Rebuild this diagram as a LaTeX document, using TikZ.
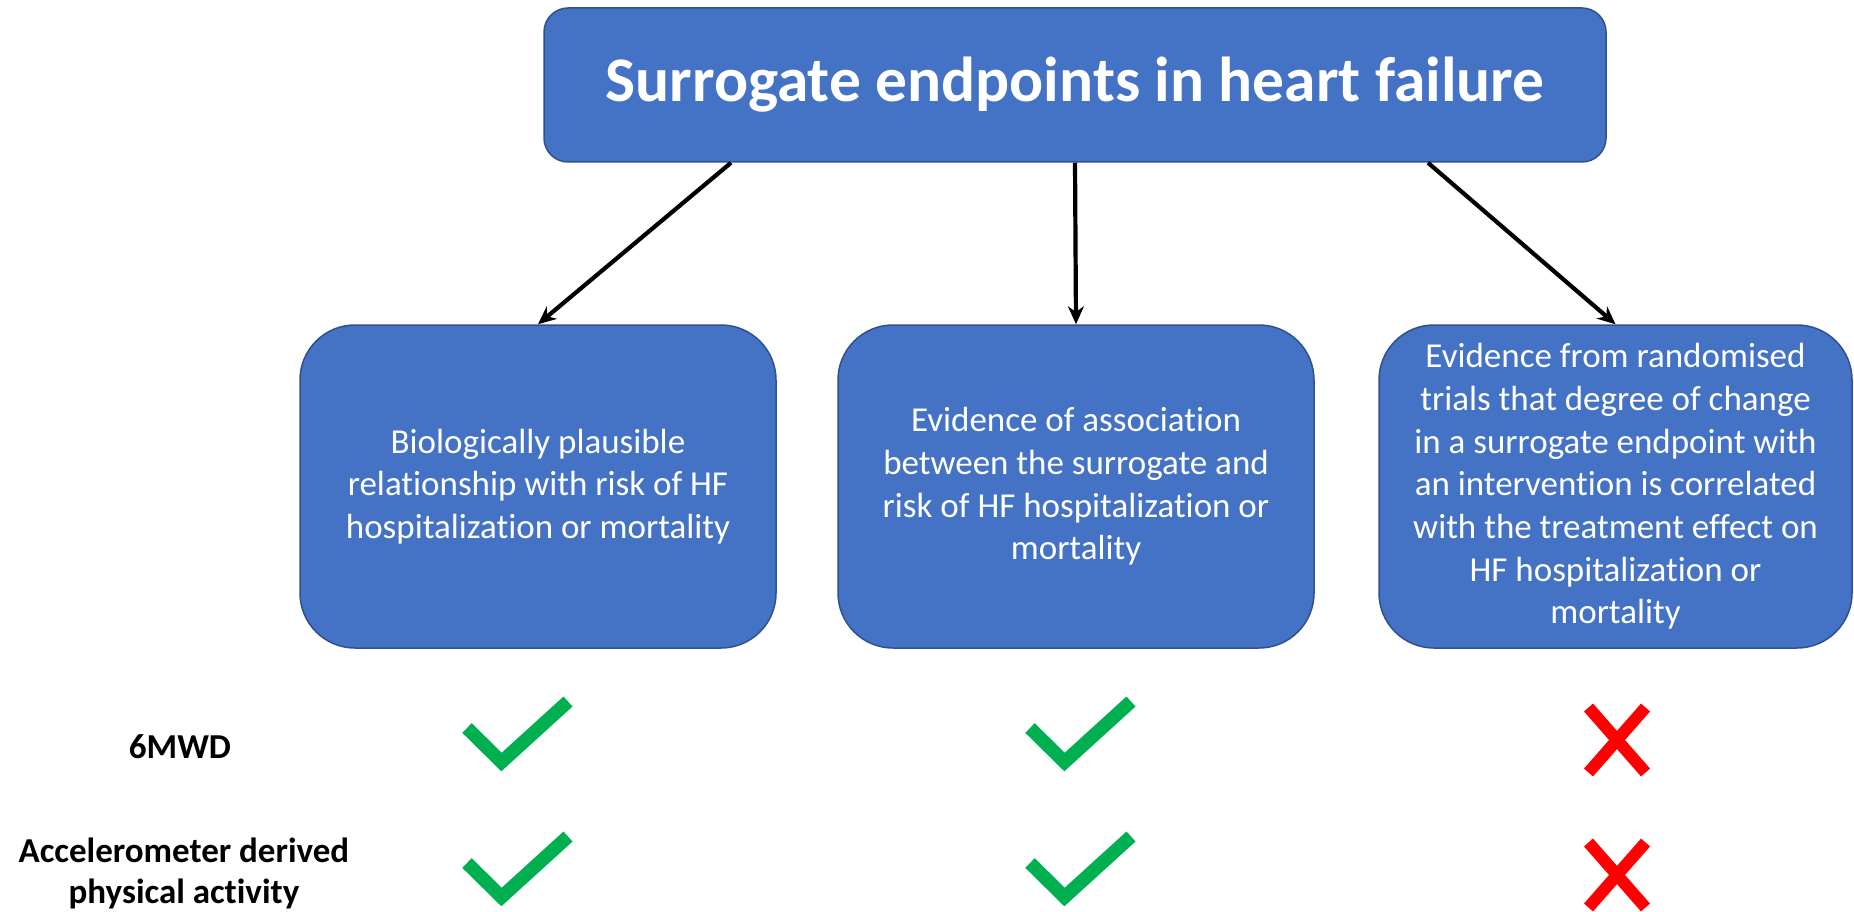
\documentclass[tikz,border=0pt]{standalone}
\usepackage{fontspec}
\setmainfont{Carlito}[Ligatures={NoCommon}]
\usetikzlibrary{arrows.meta}
\definecolor{boxblue}{HTML}{4472C4}
\definecolor{boxedge}{HTML}{2F528F}
\definecolor{okgreen}{HTML}{00B050}
\definecolor{nored}{HTML}{FF0000}
\tikzset{
  titlebox/.style={rectangle, rounded corners=24pt, fill=boxblue, draw=boxedge, line width=1.5pt,
    minimum width=1062pt, minimum height=154pt, text=white, font=\fontsize{63.5}{70}\selectfont\bfseries, inner sep=0pt},
  critbox/.style={rectangle, rounded corners=55pt, fill=boxblue, draw=boxedge, line width=1.5pt,
    minimum height=323pt, text=white, align=center, inner sep=0pt,
    font=\fontsize{35}{42.7}\selectfont},
  rowlabel/.style={align=center, font=\fontsize{35}{41}\selectfont\bfseries, text=black, inner sep=0pt},
  arr/.style={line width=4.2pt, -{Stealth[length=18pt,width=16pt]}},
  tick/.style={draw=okgreen, line width=13.5pt, line join=miter, line cap=butt},
  cross/.style={draw=nored, line width=12pt, line cap=butt},
}
\begin{document}
\begin{tikzpicture}[x=1pt,y=-1pt]
\useasboundingbox (0,0) rectangle (1854,912);
\node[titlebox] (title) at (1075,85) {Surrogate endpoints in heart failure};
\node[critbox, minimum width=476pt] (b1) at (538,486.5) {Biologically plausible\\relationship with risk of HF\\hospitalization or mortality};
\node[critbox, minimum width=476pt] (b2) at (1076,486.5) {Evidence of association\\between the surrogate and\\risk of HF hospitalization or\\mortality};
\node[critbox, minimum width=473pt] (b3) at (1615.5,486.5) {Evidence from randomised\\trials that degree of change\\in a surrogate endpoint with\\an intervention is correlated\\with the treatment effect on\\HF hospitalization or\\mortality};
\coordinate (s1) at ([xshift=-344pt]title.south);
\coordinate (s3) at ([xshift=353pt]title.south);
\draw[arr] (s1) -- (b1.north);
\draw[arr] (title.south) -- (b2.north);
\draw[arr] (s3) -- (b3.north);
\node[rowlabel] (r1) at (180,747) {6MWD};
\node[rowlabel] (r2) at (184,873) {Accelerometer derived\\physical activity};
% ticks and crosses
\foreach \dy in {0,135}{
  \draw[tick] (467,728+\dy) -- (501.5,762+\dy) -- (568,701.5+\dy);
  \draw[tick] (1030,728+\dy) -- (1064.5,762+\dy) -- (1131,701.5+\dy);
  \draw[cross] (1588.5,707.5+\dy) -- (1645.5,772.5+\dy);
  \draw[cross] (1645.5,707.5+\dy) -- (1588.5,772.5+\dy);
}
\end{tikzpicture}
\end{document}
